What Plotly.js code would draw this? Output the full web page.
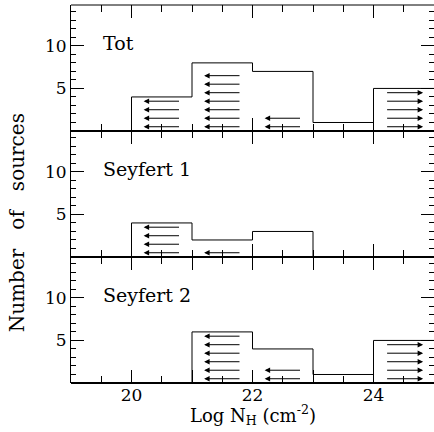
<!DOCTYPE html>
<html>
<head>
<meta charset="utf-8">
<script src="https://cdn.plot.ly/plotly-3.0.1.min.js"></script>
<style>html,body{margin:0;padding:0;background:#fff;}</style>
</head>
<body>
<div id="chart" style="width:434px;height:432px;"></div>
<script>
// ---- data ----
var binEdges = [19, 20, 21, 22, 23, 24, 25];
var panelNames = ["Tot", "Seyfert 1", "Seyfert 2"];
var totCounts = [0, 4, 8, 7, 1, 5];
var sy1Counts = [0, 4, 2, 3, 0, 0];
var sy2Counts = [0, 0, 6, 4, 1, 5];
// number of upper limits (left arrows) per bin
var totUpper = [0, 4, 7, 2, 0, 0];
var sy1Upper = [0, 4, 1, 0, 0, 0];
var sy2Upper = [0, 0, 6, 2, 0, 0];
// number of lower limits (right arrows) per bin
var totLower = [0, 0, 0, 0, 0, 5];
var sy1Lower = [0, 0, 0, 0, 0, 0];
var sy2Lower = [0, 0, 0, 0, 0, 5];
var xTickVals = [19, 20, 21, 22, 23, 24, 25];
var xTickText = ["", "20", "", "22", "", "24", ""];
var yTickVals = [5, 10];
var yTickText = ["5", "10"];

var counts = [totCounts, sy1Counts, sy2Counts];
var uppers = [totUpper, sy1Upper, sy2Upper];
var lowers = [totLower, sy1Lower, sy2Lower];

var FONT = "DejaVu Serif, Liberation Serif, serif";
var traces = [];
var annotations = [];
var domains = [[2/3, 1], [1/3, 2/3], [0, 1/3]];
var layout = {
  width: 434, height: 432,
  margin: {l: 71, r: 0, t: 5, b: 49},
  paper_bgcolor: "#fff", plot_bgcolor: "#fff",
  showlegend: false,
  font: {family: FONT, color: "#000", size: 16},
  shapes: []
};

for (var p = 0; p < 3; p++) {
  var sfx = p === 0 ? "" : String(p + 1);
  var xa = "x" + sfx, ya = "y" + sfx;
  var c = counts[p];
  var ys = c.concat([c[c.length - 1]]);
  traces.push({
    type: "scatter", mode: "lines", x: binEdges, y: ys,
    xaxis: xa, yaxis: ya,
    line: {shape: "hv", color: "#000", width: 1},
    hoverinfo: "skip"
  });
  // arrows
  for (var b = 0; b < c.length; b++) {
    var lo = binEdges[b];
    for (var k = 0; k < uppers[p][b]; k++) {
      annotations.push({
        xref: xa, yref: ya, axref: xa, ayref: ya,
        x: lo + 0.2, y: k + 0.5, ax: lo + 0.81, ay: k + 0.5,
        text: "", showarrow: true, arrowhead: 2, arrowsize: 1.1, arrowwidth: 1,
        arrowcolor: "#000", standoff: 0, startstandoff: 0
      });
    }
    for (var k2 = 0; k2 < lowers[p][b]; k2++) {
      annotations.push({
        xref: xa, yref: ya, axref: xa, ayref: ya,
        x: lo + 0.82, y: k2 + 0.5, ax: lo + 0.2, ay: k2 + 0.5,
        text: "", showarrow: true, arrowhead: 2, arrowsize: 1.1, arrowwidth: 1,
        arrowcolor: "#000", standoff: 0, startstandoff: 0
      });
    }
  }
  annotations.push({
    xref: xa, yref: ya, x: 19.5, y: 10.3, xanchor: "left", yanchor: "middle",
    text: panelNames[p], showarrow: false, font: {family: FONT, size: 19, color: "#000"}
  });
  // thick baseline of each panel
  layout.shapes.push({type: "line", xref: xa + " domain", yref: ya + " domain", x0: 0, x1: 1, y0: 0, y1: 0,
    line: {color: "#000", width: 2}});
  layout["xaxis" + sfx] = {
    anchor: ya, range: [19, 25], domain: [0, 1],
    showgrid: false, zeroline: false,
    showline: false, mirror: "ticks",
    ticks: "inside", ticklen: 13, tickwidth: 1, tickcolor: "#000",
    tickmode: "array", tickvals: xTickVals, ticktext: xTickText,
    showticklabels: p === 2,
    tickfont: {family: FONT, size: 17, color: "#000"},
    minor: {dtick: 0.5, tick0: 19, ticks: "inside", ticklen: 7, tickwidth: 1, tickcolor: "#000", showgrid: false},
    fixedrange: true
  };
  if (p !== 0) layout["xaxis" + sfx].matches = "x";
  layout["yaxis" + sfx] = {
    anchor: xa, range: [0, 14.8], domain: domains[p],
    showgrid: false, zeroline: false,
    showline: true, linecolor: "#000", linewidth: 1, mirror: "ticks",
    ticks: "inside", ticklen: 13, tickwidth: 1, tickcolor: "#000",
    tickmode: "array", tickvals: yTickVals, ticktext: yTickText,
    tickfont: {family: FONT, size: 17, color: "#000"},
    minor: {dtick: 1, tick0: 0, ticks: "inside", ticklen: 5, tickwidth: 1, tickcolor: "#000", showgrid: false},
    fixedrange: true
  };
}
// top frame of upper panel
layout.shapes.push({type: "line", xref: "x domain", yref: "y domain", x0: 0, x1: 1, y0: 1, y1: 1, line: {color: "#000", width: 1}});

annotations.push({
  xref: "paper", yref: "paper", x: 0.501, y: -0.085, xanchor: "center", yanchor: "middle",
  text: "Log N<sub>H</sub> (cm<sup>-2</sup>)", showarrow: false,
  font: {family: FONT, size: 18, color: "#000"}
});
annotations.push({
  xref: "paper", yref: "paper", x: -0.149, y: 0.425, xanchor: "center", yanchor: "middle",
  text: "Number\u00a0\u00a0\u00a0of\u00a0\u00a0\u00a0sources", textangle: -90, showarrow: false,
  font: {family: FONT, size: 20, color: "#000"}
});
layout.annotations = annotations;

Plotly.newPlot("chart", traces, layout, {staticPlot: true, displayModeBar: false});
</script>
</body>
</html>
